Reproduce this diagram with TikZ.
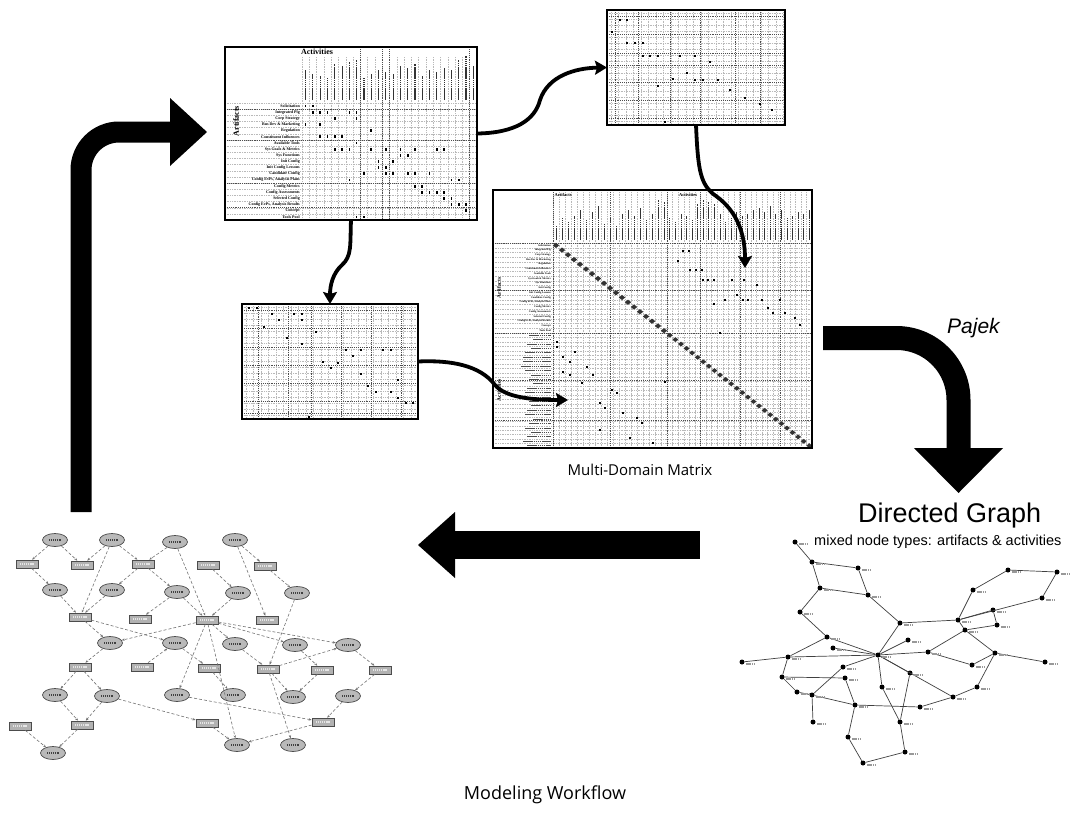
\documentclass[tikz,border=0pt]{standalone}
\usepackage{fontspec}
\setmainfont{Liberation Serif}
\newfontfamily\sansfont{Liberation Sans}
\newfontfamily\labelfont{Open Sans}
\usetikzlibrary{arrows.meta,shapes.geometric}
\begin{document}
\begin{tikzpicture}[x=1pt,y=-1pt,
  panel/.style={fill=white,inner sep=0pt,outer sep=0pt,anchor=north west},
  frame/.style={draw=black,line width=1.8pt},
  gridl/.style={gray!55,line width=0.35pt,dash pattern=on 0.6pt off 1.1pt},
  gridd/.style={black!70,line width=0.55pt,dash pattern=on 0.9pt off 1pt},
  hdrbar/.style={draw=black!80,line width=1.1pt,dash pattern=on 1.6pt off 0.5pt},
  rowbar/.style={draw=black!70,line width=1.1pt,dash pattern=on 1.6pt off 0.5pt},
  flow/.style={line width=3.8pt,-{Stealth[length=12pt,width=14pt,inset=2pt]}},
  ell/.style={ellipse,draw=black!70,fill=gray!55,line width=0.7pt,minimum width=25pt,minimum height=13pt,inner sep=0pt},
  rct/.style={rectangle,draw=black!70,fill=gray!60,line width=0.7pt,minimum width=22pt,minimum height=8pt,inner sep=0pt},
  gedge/.style={black!55,line width=0.6pt,densely dashed,-{Stealth[length=3pt,width=2.4pt]}},
  dotnode/.style={circle,fill=black,inner sep=0pt,minimum size=5pt},
  redge/.style={black!75,line width=0.7pt},
  tag/.style={draw=black!40,line width=1.6pt,dash pattern=on 1.4pt off 0.5pt},
  etxt/.style={draw=black!75,line width=1.5pt,dash pattern=on 1.4pt off 0.5pt},
  rtxt/.style={draw=white!80!gray,line width=1.5pt,dash pattern=on 1.4pt off 0.5pt},
  rowlab/.style={anchor=east,inner sep=0pt,font=\bfseries\fontsize{4}{4}\selectfont},
  mrowlab/.style={anchor=east,inner sep=0pt,font=\bfseries\fontsize{2.6}{2.6}\selectfont}
]
\useasboundingbox (0,0) rectangle (1090,814);
\fill[white] (0,0) rectangle (1090,814);

%% ---------------- Activities x Artifacts matrix ----------------
\node[panel,minimum width=252pt,minimum height=173pt] (tl) at (225,47) {};
\foreach \i in {0,...,19} \draw[gridl] (225,{103+\i*6.16}) -- (477,{103+\i*6.16});
\foreach \j in {0,...,24} \draw[gridl] ({302+\j*7.29},57) -- ({302+\j*7.29},220);
\foreach \i in {1,6,13,17} \draw[gridd] (225,{103+\i*6.16}) -- (477,{103+\i*6.16});
\foreach \j in {8,11,12,23} \draw[gridd] ({302+\j*7.29},49) -- ({302+\j*7.29},220);
\node[font=\bfseries\fontsize{8}{8}\selectfont,inner sep=0pt] (tlact) at (317,52) {Activities};
\node[font=\bfseries\fontsize{8}{8}\selectfont,inner sep=0pt,rotate=90] (tlart) at (236,121) {Artifacts};
\foreach \L [count=\j from 0] in {30,26,24,22,36,34,38,40,22,26,30,28,26,34,32,36,24,30,28,32,30,40,44,34}
  \draw[hdrbar] ({302+(\j+.5)*7.29},100) -- ({302+(\j+.5)*7.29},{100-\L});
\foreach \i/\t in {0/Solicitation,1/Integrated Plg,2/Corp Strategy,3/Bus Dev \& Marketing,
  4/Regulation,5/Constituent Influences,6/Available Tools,7/Sys Goals \& Metrics,
  8/Sys Functions,9/Init Config,10/Init Config Lessons,11/Candidate Config,
  12/{Config EvPs, Analysis Plans},13/Config Metrics,14/Config Assessments,
  15/Selected Config,16/{Config EvPs, Analysis Results},17/Concept,18/Tools Pool}
  \node[rowlab] at (300,{103+(\i+.5)*6.16}) {\t};
\foreach \c/\r in {0/0,1/0,1/1,2/1,3/1,6/1,7/1,4/2,7/2,0/3,2/3,9/4,2/5,3/5,4/5,5/5,7/6,
  4/7,5/7,6/7,9/7,11/7,13/7,15/7,18/7,19/7,13/8,14/8,10/9,12/9,10/10,11/10,
  8/11,11/11,12/11,14/11,15/11,17/11,6/12,20/12,21/12,15/13,16/13,16/14,17/14,18/14,19/14,
  19/15,20/15,20/16,21/16,22/16,22/17,7/18,8/18}
  \fill ({302+(\c+.5)*7.29-0.8},{103+(\r+.5)*6.16-1.4}) rectangle ++(1.6,2.8);
\draw[frame] (tl.north west) rectangle (tl.south east);

%% ---------------- Artifact sub-matrix (top right) ----------------
\node[panel,minimum width=178pt,minimum height=115pt] (tr) at (607,10) {};
\foreach \yy in {13,19,...,122} \draw[gridl] (607,\yy) -- (785,\yy);
\foreach \xx in {611,618.5,...,784} \draw[gridl] (\xx,12) -- (\xx,125);
\foreach \yy in {16,34,53,65,82,100,118} \draw[gridd] (607,\yy) -- (785,\yy);
\foreach \xx in {615,638,670,700,735,760} \draw[gridd] (\xx,12) -- (\xx,125);
\foreach \ex/\ey in {620/20,627/20,612/32,627/43,635/43,643/43,643/56,650/56,658/56,680/56,
  695/56,710/62,687/73,673/79,695/80,703/80,718/80,658/86,665/122,730/90,745/98,760/104,772/110}
  \fill (\ex-0.8,\ey-1.4) rectangle ++(1.6,2.8);
\draw[frame] (tr.north west) rectangle (tr.south east);

%% ---------------- Activity sub-matrix (middle left) ----------------
\node[panel,minimum width=176pt,minimum height=115pt] (ml) at (242,304) {};
\foreach \yy in {307,313,...,418} \draw[gridl] (242,\yy) -- (418,\yy);
\foreach \xx in {246,253.5,...,417} \draw[gridl] (\xx,306) -- (\xx,419);
\foreach \yy in {310,328,347,365,383,401,413} \draw[gridd] (242,\yy) -- (418,\yy);
\foreach \xx in {258,288,311,341,371,401} \draw[gridd] (\xx,306) -- (\xx,419);
\foreach \ex/\ey in {249/308,257/308,272/314,294/314,302/314,279/320,302/320,264/327,316/332,
  287/338,302/344,346/350,361/350,383/350,391/350,353/356,323/362,338/363,331/368,361/374,
  398/380,368/386,376/392,391/392,398/398,406/403,413/403,309/417}
  \fill (\ex-0.8,\ey-1.4) rectangle ++(1.6,2.8);
\draw[frame] (ml.north west) rectangle (ml.south east);

%% ---------------- Multi-domain matrix ----------------
\node[panel,minimum width=319pt,minimum height=258pt] (mdm) at (493,190) {};
\foreach \i in {0,...,19} \draw[gridl] (493,{243+\i*4.74}) -- (812,{243+\i*4.74});
\foreach \i in {0,...,26} \draw[gridl] (493,{333+\i*4.42}) -- (812,{333+\i*4.42});
\foreach \j in {0,...,19} \draw[gridl] ({553+\j*6},192) -- ({553+\j*6},448);
\foreach \j in {0,...,26} \draw[gridl] ({667+\j*5.58},192) -- ({667+\j*5.58},448);
\foreach \yy in {243,290,333,380,420} \draw[gridd] (493,\yy) -- (812,\yy);
\foreach \xx in {553,610,667,700,740,780} \draw[gridd] (\xx,192) -- (\xx,448);
\node[font=\bfseries\fontsize{4.5}{4.5}\selectfont,inner sep=0pt] (mart) at (563,195) {Artifacts};
\node[font=\bfseries\fontsize{4.5}{4.5}\selectfont,inner sep=0pt] (mact) at (688,195) {Activities};
\node[font=\bfseries\fontsize{5.5}{5.5}\selectfont,inner sep=0pt,rotate=90] (mrart) at (499,288) {Artifacts};
\node[font=\bfseries\fontsize{5.5}{5.5}\selectfont,inner sep=0pt,rotate=90] (mract) at (499,390) {Activities};
\foreach \L [count=\j from 0] in {14,22,18,24,30,20,28,34,16,22,14,26,30,24,32,20,26,40,38}
  \draw[hdrbar,line width=0.9pt] ({553+(\j+.5)*6},240) -- ({553+(\j+.5)*6},{240-\L});
\foreach \L [count=\j from 0] in {22,18,26,24,20,36,40,38,36,26,18,22,28,24,26,30,32,28,34,26,30,22,24,28,26,30}
  \draw[hdrbar,line width=0.9pt] ({667+(\j+.5)*5.58},240) -- ({667+(\j+.5)*5.58},{240-\L});
\foreach \i/\t in {0/Solicitation,1/Integrated Plg,2/Corp Strategy,3/Bus Dev \& Marketing,
  4/Regulation,5/Constituent Influences,6/Available Tools,7/Sys Goals \& Metrics,
  8/Sys Functions,9/Init Config,10/Init Config Lessons,11/Candidate Config,
  12/{Config EvPs, Analysis Plans},13/Config Metrics,14/Config Assessments,
  15/Selected Config,16/{Config EvPs, Analysis Results},17/Concept,18/Tools Pool}
  \node[mrowlab] at (551,{243+(\i+.5)*4.74}) {\t};
\foreach \L [count=\i from 0] in {22,18,24,20,26,28,28,30,26,20,22,18,24,26,28,22,20,24,26,18,22,26,20,24,28,24}
  \draw[rowbar,line width=0.9pt] ({551-\L},{333+(\i+.5)*4.42}) -- (551,{333+(\i+.5)*4.42});
\foreach \i in {0,...,18}
  \fill[black!80] ({553+(\i+.5)*6-3.2},{243+(\i+.5)*4.74}) -- ++(3.2,-2.6) -- ++(3.2,2.6) -- ++(-3.2,2.6) -- cycle;
\foreach \i in {0,...,25}
  \fill[black!80] ({667+(\i+.5)*5.58-3},{333+(\i+.5)*4.42}) -- ++(3,-2.4) -- ++(3,2.4) -- ++(-3,2.4) -- cycle;
\foreach \ex/\ey in {683/251,689/251,678/261,690/270,696/270,702/270,703/280,708/280,714/280,
  732/280,744/280,757/285,737/295,725/300,743/300,748/300,762/300,780/300,714/304,768/308,
  773/313,785/313,720/333,795/318,800/325,
  557/342,557/347,575/352,563/357,570/362,587/367,563/372,570/375,593/375,665/382,582/383,
  612/390,617/393,600/403,605/408,623/413,637/418,642/423,600/430,630/438,653/443}
  \fill (\ex-0.6,\ey-1.1) rectangle ++(1.2,2.2);
\draw[frame] (mdm.north west) rectangle (mdm.south east);
\node[font=\labelfont\fontsize{15}{15}\selectfont] (mdmlab) at (640,470) {Multi-Domain Matrix};

%% ---------------- curved connectors between matrices ----------------
\coordinate (mdmA) at (745,268);
\coordinate (mdmB) at (568,400);
\draw[flow] (tl.east) .. controls (515,133) and (535,120) .. (540,100)
  .. controls (548,76) and (575,68) .. (tr.west);
\draw[flow] (tr.south) .. controls (698,170) and (700,185) .. (716,196)
  .. controls (738,212) and (745,235) .. (mdmA);
\draw[flow] (tl.south) .. controls (350,245) and (352,256) .. (342,265)
  .. controls (333,273) and (330,285) .. (ml.north);
\draw[flow] (ml.east) .. controls (450,360) and (480,365) .. (495,385)
  .. controls (505,397) and (530,400) .. (mdmB);

%% ---------------- big workflow arrows ----------------
\draw[line width=21pt,rounded corners=38pt] (81,512) -- (81,132) -- (171,132);
\fill (170,98) -- (207,132) -- (170,166) -- cycle;
\draw[line width=24pt,rounded corners=62pt] (823,338) -- (958.5,338) -- (958.5,449);
\fill (914,448) -- (1003,448) -- (958.5,493) -- cycle;
\fill (454,531) rectangle (700,559);
\fill (455,512) -- (418,545) -- (455,578) -- cycle;

\node[font=\sansfont\itshape\fontsize{21}{21}\selectfont,anchor=base west,inner sep=0pt] (pajek) at (947,333) {Pajek};
\node[font=\sansfont\fontsize{27}{27}\selectfont,anchor=base west,inner sep=0pt] (dg) at (858,522) {Directed Graph};
\node[font=\sansfont\fontsize{14.5}{14.5}\selectfont,anchor=base west,inner sep=0pt] (dgsub) at (814,545) {mixed node types: artifacts \& activities};
\node[font=\labelfont\fontsize{18}{18}\selectfont] (mwf) at (545,795) {Modeling Workflow};

%% ---------------- directed graph (right) ----------------
\foreach \n/\px/\py in {1/795/542,2/812/562,3/858/568,4/820/588,5/868/595,6/800/612,7/900/623,
  8/958/620,9/973/590,10/1008/570,11/1057/572,12/1042/598,13/993/610,14/965/630,15/997/625,
  16/827/637,17/908/640,18/833/648,19/878/655,20/928/652,21/995/653,22/1045/662,23/742/662,
  24/788/657,25/843/667,26/972/665,27/782/677,28/845/678,29/910/673,30/977/687,31/882/687,
  32/797/692,33/812/695,34/953/697,35/855/705,36/920/707,37/813/722,38/900/722,39/848/737,
  40/905/752,41/863/763}
  \node[dotnode] (g\n) at (\px,\py) {};
\foreach \a/\b in {1/2,2/3,2/4,3/5,4/5,4/6,6/16,5/7,7/8,7/19,8/9,9/10,10/11,11/12,12/8,13/8,
  8/14,13/15,14/15,14/20,14/21,21/22,21/26,20/26,21/30,30/34,19/34,19/17,19/20,19/16,19/18,
  19/24,24/23,24/27,16/24,27/32,32/33,19/25,25/33,19/31,31/38,38/40,40/41,41/39,39/35,35/36,
  36/34,33/37,33/35,28/35,27/28,19/29,29/38}
  \draw[redge] (g\a) -- (g\b);
\foreach \n in {1,...,41}
  \draw[tag] ([shift={(1.5,2.2)}]g\n.east) -- ++(8,0);

%% ---------------- directed graph (left, annotated) ----------------
\foreach \n/\px/\py in {E1/55/540,E2/112/540,E3/175/542,E4/235/540,E5/55/590,E6/112/590,
  E7/177/592,E8/238/593,E9/297/593,E10/110/643,E11/175/643,E12/235/644,E13/295/645,E14/348/645,
  E15/55/695,E16/107/696,E17/177/695,E18/233/695,E19/293/697,E20/348/696,E21/53/753,
  E22/237/745,E23/293/745}
  \node[ell] (\n) at (\px,\py) {};
\foreach \n/\px/\py in {R1/27/564,R2/82/565,R3/143/564,R4/208/565,R5/265/566,R6/80/617,
  R7/140/619,R8/207/620,R9/267/620,R10/80/667,R11/142/667,R12/209/668,R13/268/669,R14/322/670,
  R15/380/670,R16/20/726,R17/82/725,R18/207/723,R19/323/722}
  \node[rct] (\n) at (\px,\py) {};
\foreach \n in {E1,E2,E3,E4,E5,E6,E7,E8,E9,E10,E11,E12,E13,E14,E15,E16,E17,E18,E19,E20,E21,E22,E23}
  \draw[etxt] ([xshift=-6pt]\n.center) -- ++(12,0);
\foreach \n in {R1,R2,R3,R4,R5,R6,R7,R8,R9,R10,R11,R12,R13,R14,R15,R16,R17,R18,R19}
  \draw[rtxt] ([xshift=-7pt]\n.center) -- ++(14,0);
\foreach \a/\b in {E1/R1,E1/R2,E2/R2,E2/R3,E2/R6,E3/R3,E3/R8,R3/E6,R3/E7,R1/E5,E5/R6,E6/R6,
  R6/E10,R6/E11,E4/R5,E4/R9,R5/E9,E9/R13,R4/E8,E8/R8,E7/R8,E7/R7,R8/E10,R8/E12,R8/E13,R8/E14,
  R8/E17,R8/E22,E11/R12,R12/E18,E12/R13,R13/E14,R13/E19,R13/E23,E13/R14,R14/E19,E14/R15,
  R15/E20,E20/R19,R19/E22,E17/R19,E10/R10,R10/E15,R10/E16,E16/R17,E15/R17,R17/E21,R16/E21,
  E16/R18,R11/E11,R18/E22}
  \draw[gedge] (\a) -- (\b);
\end{tikzpicture}
\end{document}
